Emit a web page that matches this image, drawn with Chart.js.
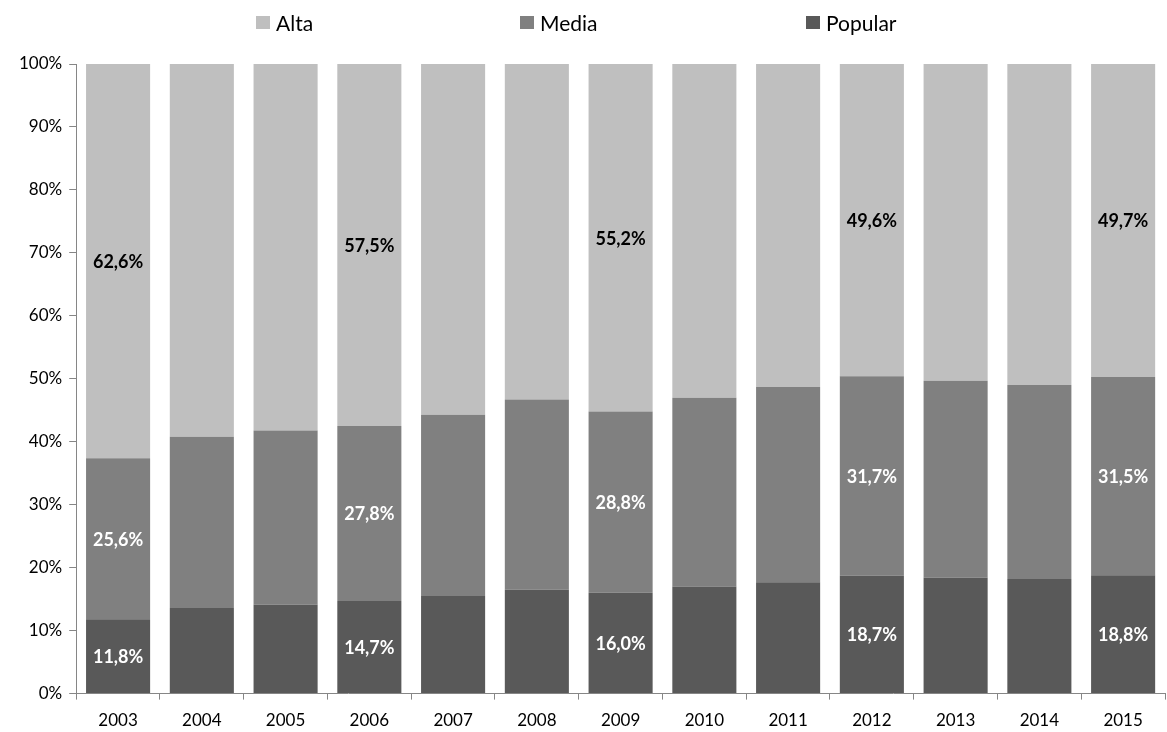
<!DOCTYPE html>
<html>
<head>
<meta charset="utf-8">
<script src="https://cdn.jsdelivr.net/npm/chart.js@4"></script>
<style>
  html, body { margin: 0; padding: 0; background: #fff; }
  #wrap { position: relative; width: 1167px; height: 732px; }
  .legend { position: absolute; top: 10px; font: 21px Lato, sans-serif; color: #000; display: flex; align-items: center; }
  .legend span.box { display: inline-block; width: 14px; height: 13px; margin-right: 6px; }
</style>
</head>
<body>
<div id="wrap">
  <canvas id="chart" width="1167" height="732"></canvas>
  <div class="legend" style="left:256px"><span class="box" style="background:#bfbfbf"></span>Alta</div>
  <div class="legend" style="left:520px"><span class="box" style="background:#808080"></span>Media</div>
  <div class="legend" style="left:806px"><span class="box" style="background:#595959"></span>Popular</div>
</div>
<script>
  const years = ['2003', '2004', '2005', '2006', '2007', '2008', '2009', '2010', '2011', '2012', '2013', '2014', '2015'];

  const popular = [11.8, 13.6, 14.1, 14.7, 15.5, 16.5, 16.0, 17.0, 17.7, 18.7, 18.4, 18.2, 18.8];
  const media   = [25.6, 27.2, 27.7, 27.8, 28.8, 30.2, 28.8, 30.0, 31.0, 31.7, 31.3, 30.8, 31.5];
  const alta    = [62.6, 59.2, 58.2, 57.5, 55.7, 53.3, 55.2, 53.0, 51.3, 49.6, 50.3, 51.0, 49.7];

  // only these years get value labels
  const labelled = ['2003', '2006', '2009', '2012', '2015'];

  const data = {
    labels: years,
    datasets: [{
      label: 'Popular',
      data: popular,
      backgroundColor: '#595959',
      labelColor: '#ffffff'
    }, {
      label: 'Media',
      data: media,
      backgroundColor: '#808080',
      labelColor: '#ffffff'
    }, {
      label: 'Alta',
      data: alta,
      backgroundColor: '#bfbfbf',
      labelColor: '#000000'
    }]
  };

  // writes "62,6%" style labels in the middle of each segment
  const segmentLabels = {
    id: 'segmentLabels',
    afterDatasetsDraw(chart) {
      const ctx = chart.ctx;
      ctx.save();
      ctx.font = 'bold 18px Lato, sans-serif';
      ctx.textAlign = 'center';
      ctx.textBaseline = 'middle';
      chart.data.datasets.forEach((ds, i) => {
        const meta = chart.getDatasetMeta(i);
        meta.data.forEach((bar, j) => {
          if (!labelled.includes(chart.data.labels[j])) return;
          const mid = (bar.y + bar.base) / 2;
          ctx.fillStyle = ds.labelColor;
          ctx.fillText(ds.data[j].toFixed(1).replace('.', ',') + '%', bar.x, mid + 1);
        });
      });
      ctx.restore();
    }
  };

  const config = {
    type: 'bar',
    data: data,
    options: {
      responsive: false,
      animation: false,
      layout: { padding: { top: 64, right: 2, left: 12, bottom: -10 } },
      datasets: {
        bar: { categoryPercentage: 1, barPercentage: 0.765, borderWidth: 0 }
      },
      plugins: {
        legend: { display: false },
        tooltip: { enabled: false }
      },
      scales: {
        x: {
          stacked: true,
          border: { display: true, color: '#868686' },
          grid: { drawOnChartArea: false, drawTicks: true, tickLength: 6, color: '#868686', offset: true },
          ticks: { color: '#000', font: { family: 'Lato', size: 17 }, padding: 11 }
        },
        y: {
          stacked: true,
          min: 0,
          max: 100,
          border: { display: true, color: '#868686' },
          grid: { drawOnChartArea: false, drawTicks: true, tickLength: 7, color: '#868686' },
          ticks: {
            stepSize: 10,
            color: '#000',
            font: { family: 'Lato', size: 17 },
            padding: 7,
            callback: v => v + '%'
          }
        }
      }
    },
    plugins: [segmentLabels]
  };

  const chart = new Chart(document.getElementById('chart'), config);
</script>
</body>
</html>
